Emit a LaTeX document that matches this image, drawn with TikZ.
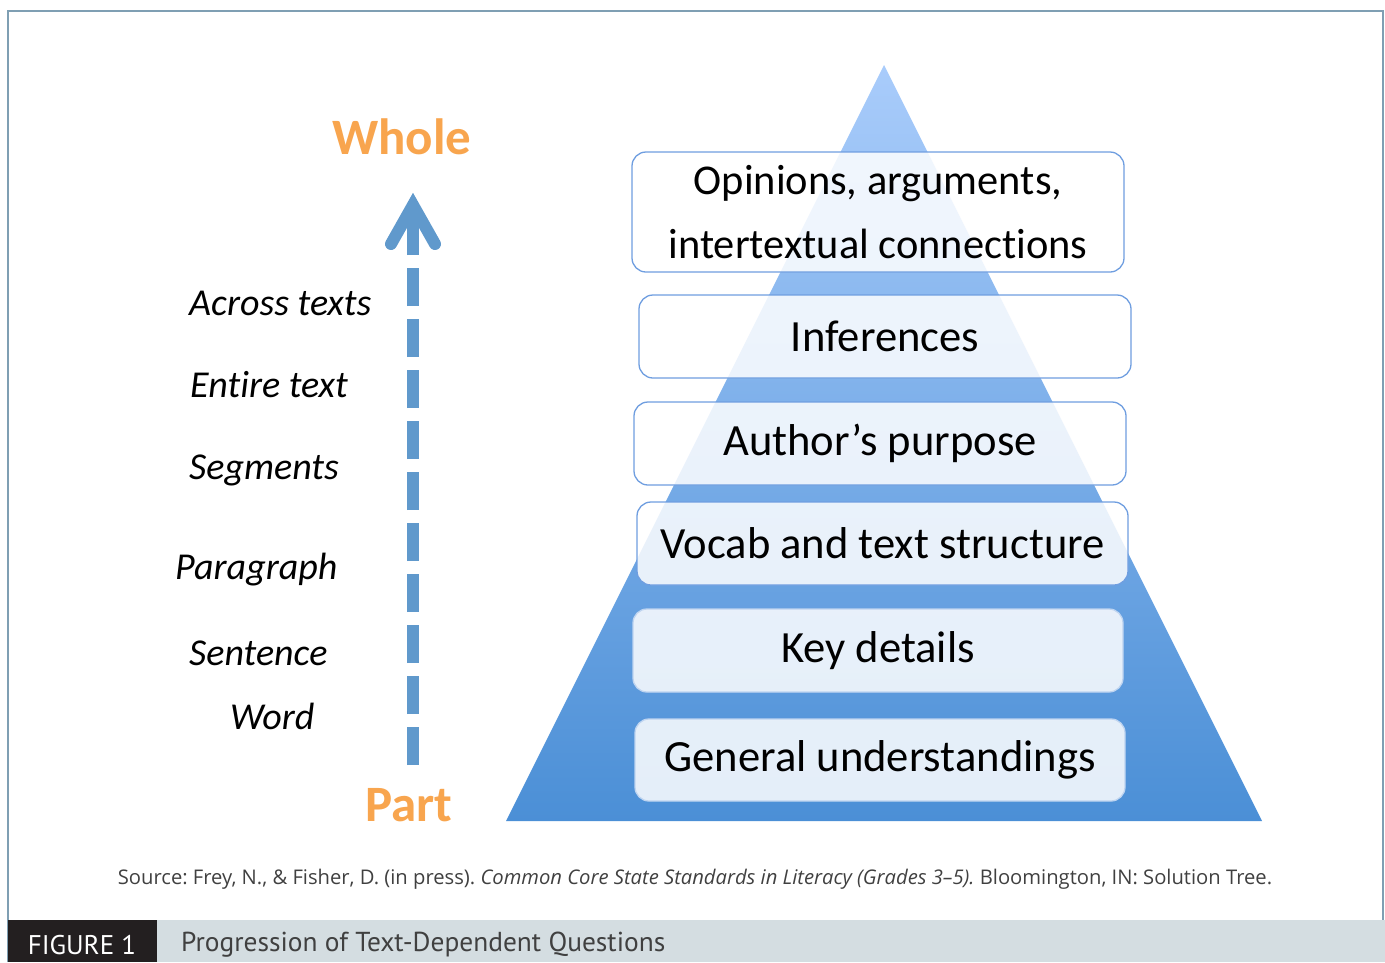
\documentclass[tikz,border=0pt]{standalone}
\usepackage{fontspec}
\setmainfont{Carlito}[Ligatures=NoCommon]
\newfontfamily\srcfont{Open Sans}
\newfontfamily\barfont{PT Sans}
\usepackage{tikz}
\usetikzlibrary{arrows.meta}
\definecolor{frameline}{RGB}{127,159,179}
\definecolor{barfill}{RGB}{212,221,225}
\definecolor{barblack}{RGB}{35,31,32}
\definecolor{pyrtop}{RGB}{169,204,251}
\definecolor{pyrbot}{RGB}{75,143,214}
\definecolor{tierline}{RGB}{111,158,224}
\definecolor{tierfaint}{RGB}{190,212,240}
\definecolor{wholeorange}{RGB}{248,165,78}
\definecolor{arrowblue}{RGB}{96,153,204}
\definecolor{srcgray}{RGB}{64,64,64}
\tikzset{%
    tier/.style={%
        draw=tierline, line width=1.3pt, rounded corners=14pt,
        fill=white, fill opacity=0.85, text opacity=1,
        minimum width=492pt, minimum height=83pt, inner sep=0pt,
        align=center, font=\fontsize{44.6}{64}\selectfont
    },
    level/.style={%
        anchor=west, inner sep=0pt, text height=0.75em, text depth=0.25em,
        font=\fontsize{38}{42}\selectfont\itshape
    },
    ends/.style={%
        text=wholeorange, inner sep=0pt,
        font=\fontsize{51}{56}\selectfont\bfseries
    },
    shaft/.style={draw=arrowblue, line width=12pt}
}

\begin{document}
\frenchspacing
\begin{tikzpicture}[x=1pt,y=-1pt]
\useasboundingbox (0,0) rectangle (1385,962);
% frame and caption bar
\draw[frameline, line width=2pt] (8,962) -- (8,11) -- (1383,11) -- (1383,920);
\fill[barfill] (8,920) rectangle (1385,962);
\fill[barblack] (8,920) rectangle (157,962);
\node[text=white, font=\barfont\fontsize{27}{30}\selectfont] (fig) at (82,945) {FIGURE 1};
\node[anchor=west, inner sep=0pt, text=srcgray, font=\barfont\fontsize{27.4}{30}\selectfont] (title) at (181,945) {Progression of Text-Dependent Questions};
% the pyramid
\shade[top color=pyrtop, bottom color=pyrbot] (884,65) -- (1262,821) -- (506,821) -- cycle;
\node[tier, minimum height=120pt, font=\fontsize{42.4}{64}\selectfont] (t1) at (878,212) {Opinions, arguments,\\intertextual connections};
\node[tier] (t2) at (885,336.5) {Inferences};
\node[tier] (t3) at (880,443.5) {Author’s purpose};
\node[tier, minimum width=491pt] (t4) at (882.5,543.5) {Vocab and text structure};
\node[tier, draw=tierfaint, minimum width=490pt] (t5) at (878,650.5) {Key details};
\node[tier, draw=tierfaint, minimum width=490pt, minimum height=82pt] (t6) at (880,760) {General understandings};
% part to whole
\node[ends] (whole) at (402,137) {Whole};
\node[ends] (part) at (409,805) {Part};
\coordinate (arrbot) at (413,765);
\coordinate (arrmid) at (413,268);
\coordinate (arrneck) at (413,255);
\coordinate (arrtip) at (413,205);
\draw[shaft, dash pattern=on 38pt off 13pt] (arrbot) -- (arrmid);
\draw[shaft] (arrneck) -- (arrtip);
\draw[shaft, line cap=round, miter limit=10] (391,244) -- (arrtip) -- (435,244);
\node[level] (l1) at (189,313) {Across texts};
\node[level] (l2) at (190,395) {Entire text};
\node[level] (l3) at (189,477) {Segments};
\node[level] (l4) at (175,577) {Paragraph};
\node[level] (l5) at (189,663) {Sentence};
\node[level] (l6) at (230,727) {Word};
% source line
\node[text=srcgray, font=\srcfont\fontsize{20.2}{23}\selectfont] (src) at (695,879) {Source: Frey, N., \& Fisher, D. (in press). \textit{Common Core State Standards in Literacy (Grades 3–5).} Bloomington, IN: Solution Tree.};
\end{tikzpicture}
\end{document}
